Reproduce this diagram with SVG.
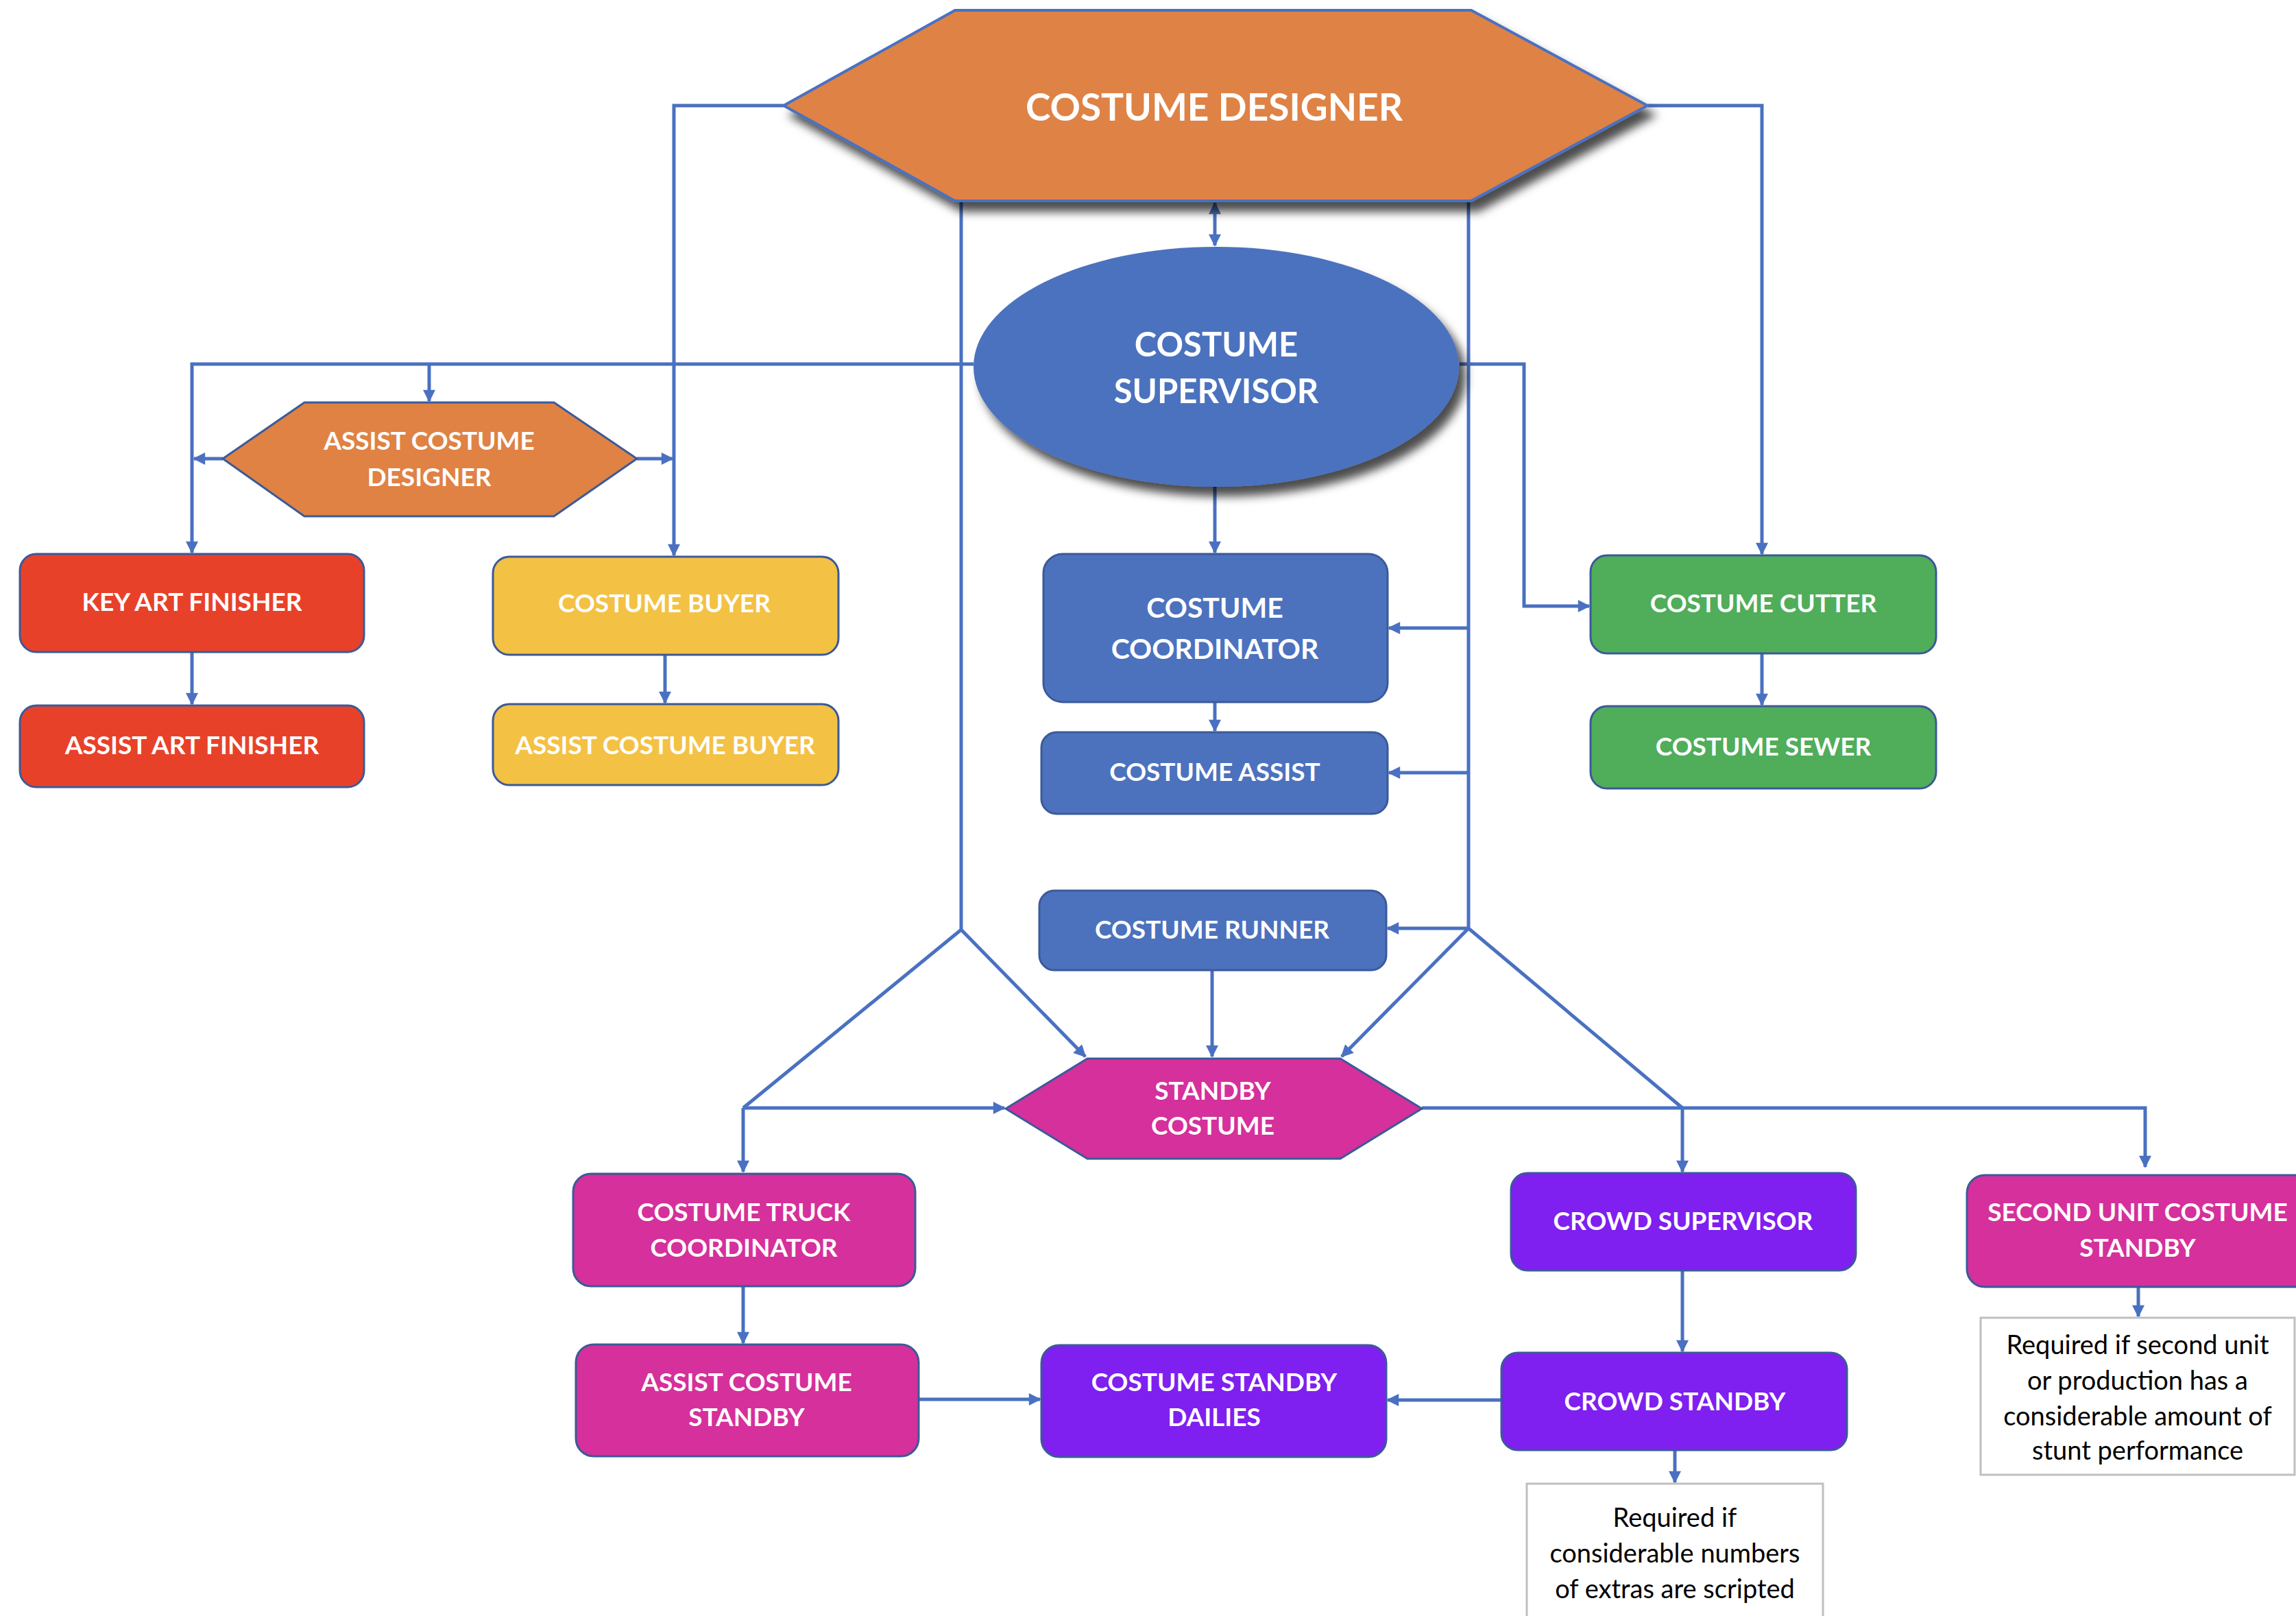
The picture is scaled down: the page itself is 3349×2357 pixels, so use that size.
<svg xmlns="http://www.w3.org/2000/svg" width="3349" height="2357" viewBox="0 0 3349 2357">
<defs>
<style>
.lbl{font-family:Lato,"Open Sans","Liberation Sans",sans-serif;font-weight:700;fill:#ffffff;text-anchor:middle;font-size:37px}
.note{font-family:Lato,"Open Sans","Liberation Sans",sans-serif;font-weight:400;fill:#000000;text-anchor:middle;font-size:38px}
.box{stroke:#3B5A99;stroke-width:3}
.c{fill:none;stroke:#4A71C1;stroke-width:5}
.nb{fill:#ffffff;stroke:#BFBFBF;stroke-width:3}
</style>
<marker id="ah" viewBox="0 0 10 10" refX="9" refY="5" markerWidth="22" markerHeight="18" markerUnits="userSpaceOnUse" orient="auto-start-reverse"><path d="M0,0 L10,5 L0,10 Z" fill="#4A71C1"/></marker>
<filter id="sh" x="-20%" y="-20%" width="140%" height="160%"><feDropShadow dx="10" dy="14" stdDeviation="7" flood-color="#000" flood-opacity="0.7"/></filter>
</defs>
<rect width="3349" height="2357" fill="#ffffff"/>
<g id="connectors">
<path class="c" d="M1143,154 H983 V810" marker-end="url(#ah)"/>
<path class="c" d="M2403,154 H2570 V808" marker-end="url(#ah)"/>
<path class="c" d="M1772,296 V358" marker-start="url(#ah)" marker-end="url(#ah)"/>
<path class="c" d="M1420,531 H280 V806" marker-end="url(#ah)"/>
<path class="c" d="M626,531 V585" marker-end="url(#ah)"/>
<path class="c" d="M325,669 H283" marker-end="url(#ah)"/>
<path class="c" d="M929,669 H981" marker-end="url(#ah)"/>
<path class="c" d="M280,951 V1027" marker-end="url(#ah)"/>
<path class="c" d="M970,955 V1025" marker-end="url(#ah)"/>
<path class="c" d="M2129,531 H2223 V884 H2318" marker-end="url(#ah)"/>
<path class="c" d="M1772,710 V806" marker-end="url(#ah)"/>
<path class="c" d="M1772,1024 V1066" marker-end="url(#ah)"/>
<path class="c" d="M2570,953 V1028" marker-end="url(#ah)"/>
<path class="c" d="M1402,293 V1356 L1084,1616"/>
<path class="c" d="M1402,1356 L1583,1541" marker-end="url(#ah)"/>
<path class="c" d="M2142,293 V1354 L2454,1616"/>
<path class="c" d="M2142,1354 L1957,1541" marker-end="url(#ah)"/>
<path class="c" d="M2142,916 H2026" marker-end="url(#ah)"/>
<path class="c" d="M2142,1127 H2026" marker-end="url(#ah)"/>
<path class="c" d="M2142,1354 H2024" marker-end="url(#ah)"/>
<path class="c" d="M1768,1415 V1541" marker-end="url(#ah)"/>
<path class="c" d="M1084,1616 H1465" marker-end="url(#ah)"/>
<path class="c" d="M1084,1616 V1709" marker-end="url(#ah)"/>
<path class="c" d="M1084,1876 V1959" marker-end="url(#ah)"/>
<path class="c" d="M1340,2041 H1517" marker-end="url(#ah)"/>
<path class="c" d="M2190,2042 H2024" marker-end="url(#ah)"/>
<path class="c" d="M2074,1616 H3129 V1702" marker-end="url(#ah)"/>
<path class="c" d="M2454,1616 V1709" marker-end="url(#ah)"/>
<path class="c" d="M2454,1853 V1971" marker-end="url(#ah)"/>
<path class="c" d="M2443,2115 V2162" marker-end="url(#ah)"/>
<path class="c" d="M3119,1877 V1920" marker-end="url(#ah)"/>
</g>
<g id="costume-designer">
<polygon points="1143,154 1393,15 2146,15 2403,154 2146,293 1393,293" fill="#DF8244" stroke="#4A71C1" stroke-width="4" filter="url(#sh)"/>
<text class="lbl" x="1771" y="176" style="font-size:55px">COSTUME DESIGNER</text>
</g>
<g id="costume-supervisor">
<ellipse cx="1774" cy="535" rx="354" ry="175" fill="#4C72BE" filter="url(#sh)"/>
<text class="lbl" x="1774" y="520" style="font-size:49px">COSTUME</text>
<text class="lbl" x="1774" y="588" style="font-size:49px">SUPERVISOR</text>
</g>
<g id="assist-costume-designer">
<polygon points="325,669 444,587 808,587 929,669 808,753 444,753" fill="#DF8244" class="box"/>
<text class="lbl" x="626" y="656">ASSIST COSTUME</text>
<text class="lbl" x="626" y="709">DESIGNER</text>
</g>
<g id="key-art-finisher">
<rect x="29" y="808" width="502" height="143" rx="24" fill="#E8412A" class="box"/>
<text class="lbl" x="280" y="891">KEY ART FINISHER</text>
</g>
<g id="assist-art-finisher">
<rect x="29" y="1029" width="502" height="119" rx="24" fill="#E8412A" class="box"/>
<text class="lbl" x="280" y="1100">ASSIST ART FINISHER</text>
</g>
<g id="costume-buyer">
<rect x="719" y="812" width="504" height="143" rx="24" fill="#F3C144" class="box"/>
<text class="lbl" x="969" y="893">COSTUME BUYER</text>
</g>
<g id="assist-costume-buyer">
<rect x="719" y="1027" width="504" height="118" rx="24" fill="#F3C144" class="box"/>
<text class="lbl" x="970" y="1100">ASSIST COSTUME BUYER</text>
</g>
<g id="costume-coordinator">
<rect x="1522" y="808" width="502" height="216" rx="28" fill="#4C72BE" class="box"/>
<text class="lbl" x="1772" y="901" style="font-size:41px">COSTUME</text>
<text class="lbl" x="1772" y="961" style="font-size:41px">COORDINATOR</text>
</g>
<g id="costume-assist">
<rect x="1519" y="1068" width="505" height="119" rx="22" fill="#4C72BE" class="box"/>
<text class="lbl" x="1772" y="1139">COSTUME ASSIST</text>
</g>
<g id="costume-cutter">
<rect x="2320" y="810" width="504" height="143" rx="24" fill="#50AD5A" class="box"/>
<text class="lbl" x="2572" y="893">COSTUME CUTTER</text>
</g>
<g id="costume-sewer">
<rect x="2320" y="1030" width="504" height="120" rx="24" fill="#50AD5A" class="box"/>
<text class="lbl" x="2572" y="1102">COSTUME SEWER</text>
</g>
<g id="costume-runner">
<rect x="1516" y="1299" width="506" height="116" rx="22" fill="#4C72BE" class="box"/>
<text class="lbl" x="1768" y="1369">COSTUME RUNNER</text>
</g>
<g id="standby-costume">
<polygon points="1467,1617 1586,1544 1955,1544 2074,1617 1955,1690 1586,1690" fill="#D5309B" class="box"/>
<text class="lbl" x="1769" y="1604">STANDBY</text>
<text class="lbl" x="1769" y="1655">COSTUME</text>
</g>
<g id="costume-truck-coordinator">
<rect x="836" y="1712" width="499" height="164" rx="26" fill="#D5309B" class="box"/>
<text class="lbl" x="1085" y="1781">COSTUME TRUCK</text>
<text class="lbl" x="1085" y="1833">COORDINATOR</text>
</g>
<g id="assist-costume-standby">
<rect x="840" y="1961" width="500" height="163" rx="26" fill="#D5309B" class="box"/>
<text class="lbl" x="1089" y="2029">ASSIST COSTUME</text>
<text class="lbl" x="1089" y="2080">STANDBY</text>
</g>
<g id="costume-standby-dailies">
<rect x="1519" y="1962" width="503" height="163" rx="26" fill="#7F1FF0" class="box"/>
<text class="lbl" x="1771" y="2029">COSTUME STANDBY</text>
<text class="lbl" x="1771" y="2080">DAILIES</text>
</g>
<g id="crowd-supervisor">
<rect x="2204" y="1711" width="503" height="142" rx="24" fill="#7F1FF0" class="box"/>
<text class="lbl" x="2455" y="1794">CROWD SUPERVISOR</text>
</g>
<g id="crowd-standby">
<rect x="2190" y="1973" width="504" height="142" rx="24" fill="#7F1FF0" class="box"/>
<text class="lbl" x="2443" y="2057">CROWD STANDBY</text>
</g>
<g id="second-unit-costume-standby">
<rect x="2869" y="1714" width="520" height="163" rx="26" fill="#D5309B" class="box"/>
<text class="lbl" x="3118" y="1781">SECOND UNIT COSTUME</text>
<text class="lbl" x="3118" y="1833">STANDBY</text>
</g>
<g id="note-crowd">
<rect x="2227" y="2164" width="432" height="220" class="nb"/>
<text class="note" x="2443" y="2227">Required if</text>
<text class="note" x="2443" y="2279">considerable numbers</text>
<text class="note" x="2443" y="2331">of extras are scripted</text>
</g>
<g id="note-second-unit">
<rect x="2889" y="1922" width="458" height="229" class="nb"/>
<text class="note" x="3118" y="1975">Required if second unit</text>
<text class="note" x="3118" y="2027">or production  has a</text>
<text class="note" x="3118" y="2079">considerable amount of</text>
<text class="note" x="3118" y="2129">stunt performance</text>
</g>
</svg>
